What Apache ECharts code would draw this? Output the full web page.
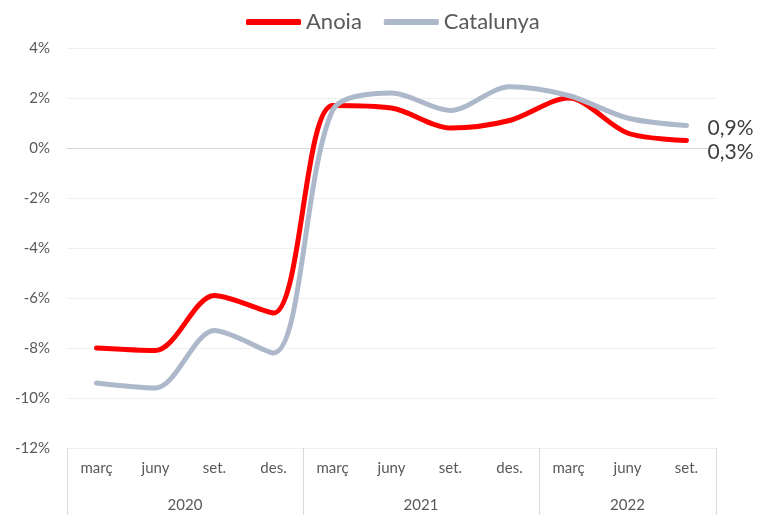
<!DOCTYPE html>
<html>
<head>
<meta charset="utf-8">
<script src="https://cdn.jsdelivr.net/npm/echarts@6/dist/echarts.min.js"></script>
<style>
  html, body { margin: 0; padding: 0; background: #fff; }
  #chart { width: 757px; height: 515px; }
</style>
</head>
<body>
<div id="chart"></div>
<script>
const months = ["març", "juny", "set.", "des.", "març", "juny", "set.", "des.", "març", "juny", "set."];
const years = ["2020", "2021", "2022"];
const quartersPerYear = [4, 4, 3];
const anoia = [-8.0, -8.1, -5.9, -6.6, 1.7, 1.6, 0.8, 1.1, 2.0, 0.6, 0.3];
const catalunya = [-9.4, -9.6, -7.3, -8.2, 1.5, 2.2, 1.5, 2.45, 2.1, 1.2, 0.9];
const yTicks = [-12, -10, -8, -6, -4, -2, 0, 2, 4];

// year group edges and centres along the 0..11 quarter scale
const yearEdges = [0];
quartersPerYear.forEach((n) => yearEdges.push(yearEdges[yearEdges.length - 1] + n));
const yearMids = years.map((_, i) => (yearEdges[i] + yearEdges[i + 1]) / 2);

const font = "Lato";
const pct = (v) => v.toFixed(1).replace(".", ",") + "%";

const chart = echarts.init(document.getElementById("chart"));
chart.setOption({
  animation: false,
  textStyle: { fontFamily: font },
  legend: {
    top: 6,
    left: 241,
    itemWidth: 55,
    itemHeight: 6,
    itemGap: 22,
    icon: "roundRect",
    textStyle: { fontFamily: font, fontSize: 22, color: "#595959" },
    data: ["Anoia", "Catalunya"],
  },
  grid: { left: 67, right: 41, top: 48, bottom: 67 },
  xAxis: [
    {
      type: "category",
      data: months,
      boundaryGap: true,
      axisLine: { show: true, lineStyle: { color: "#d9d9d9" } },
      axisTick: { show: false },
      axisLabel: { color: "#595959", fontSize: 15, margin: 13, interval: 0 },
    },
    {
      type: "value",
      min: 0,
      max: months.length,
      position: "bottom",
      axisLine: { show: false },
      splitLine: { show: false },
      axisTick: {
        show: true,
        customValues: yearEdges,
        length: 67,
        lineStyle: { color: "#d9d9d9" },
      },
      axisLabel: {
        customValues: yearMids,
        margin: 50,
        color: "#595959",
        fontSize: 15,
        formatter: (v) => years[yearMids.indexOf(v)] || "",
      },
    },
  ],
  yAxis: {
    type: "value",
    min: yTicks[0],
    max: yTicks[yTicks.length - 1],
    interval: 2,
    axisLine: { show: false },
    axisTick: { show: false },
    axisLabel: { color: "#595959", fontSize: 15, margin: 17, formatter: (v) => v + "%" },
    splitLine: {
      lineStyle: {
        color: yTicks.map((t) => (t === 0 ? "#d0d0d0" : "#f0f0f0")),
        width: 1,
      },
    },
  },
  series: [
    {
      name: "Anoia",
      type: "line",
      data: anoia,
      smooth: 0.3,
      symbol: "none",
      lineStyle: { color: "#ff0000", width: 5, cap: "round" },
      itemStyle: { color: "#ff0000" },
      endLabel: {
        show: true,
        formatter: (p) => pct(p.value),
        color: "#404040",
        fontSize: 21,
        distance: 21,
        offset: [0, 12],
      },
    },
    {
      name: "Catalunya",
      type: "line",
      data: catalunya,
      smooth: 0.3,
      symbol: "none",
      lineStyle: { color: "#adb9ca", width: 5, cap: "round" },
      itemStyle: { color: "#adb9ca" },
      endLabel: {
        show: true,
        formatter: (p) => pct(p.value),
        color: "#404040",
        fontSize: 21,
        distance: 21,
        offset: [0, 3],
      },
    },
  ],
});
</script>
</body>
</html>
